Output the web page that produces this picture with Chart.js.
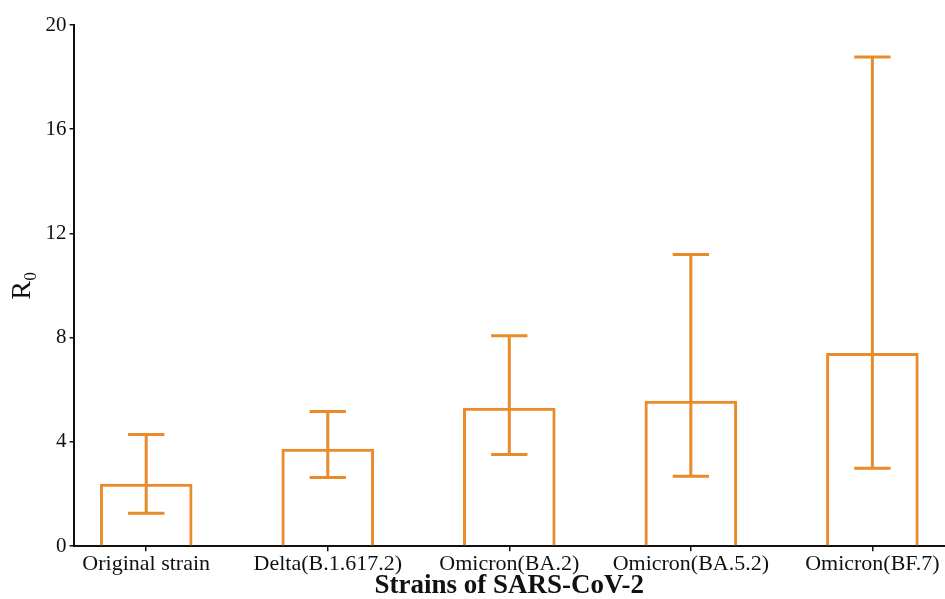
<!DOCTYPE html>
<html lang="en">
<head>
  <meta charset="UTF-8">
  <title>R0 of SARS-CoV-2 strains</title>
  <script src="https://cdn.jsdelivr.net/npm/chart.js"></script>
  <style>
    html, body { margin: 0; padding: 0; background: #fff; }
    #grafico { display: block; }
  </style>
</head>
<body>
  <canvas id="grafico" width="945" height="599"></canvas>

<script>
  // valores
  const cepas = ['Original strain', 'Delta(B.1.617.2)', 'Omicron(BA.2)', 'Omicron(BA.5.2)', 'Omicron(BF.7)']
  const r0 = [2.4, 3.74, 5.31, 5.58, 7.41]
  const r0Min = [1.26, 2.64, 3.52, 2.68, 2.99]
  const r0Max = [4.29, 5.17, 8.08, 11.19, 18.77]
  const ticksY = [0, 4, 8, 12, 16, 20]

  const laranja = '#e98b2a'

  // barras de erro desenhadas com as escalas do proprio chart
  const barrasErro = {
    id: 'barrasErro',
    afterDatasetsDraw(chart) {
      const ctx = chart.ctx
      const x = chart.scales.x
      const y = chart.scales.y
      ctx.save()
      ctx.strokeStyle = laranja
      ctx.lineWidth = 3
      ctx.lineCap = 'butt'
      for (let i = 0; i < cepas.length; i++) {
        const cx = x.getPixelForValue(i)
        const esq = x.getPixelForValue(i - 0.1)
        const dir = x.getPixelForValue(i + 0.1)
        const yMin = y.getPixelForValue(r0Min[i])
        const yMax = y.getPixelForValue(r0Max[i])
        ctx.beginPath()
        ctx.moveTo(cx, yMin)
        ctx.lineTo(cx, yMax)
        ctx.moveTo(esq, yMax)
        ctx.lineTo(dir, yMax)
        ctx.moveTo(esq, yMin)
        ctx.lineTo(dir, yMin)
        ctx.stroke()
      }
      ctx.restore()
    }
  }

  const ctx = document.getElementById('grafico').getContext('2d')

  new Chart(ctx, {
    type: 'bar',
    data: {
      datasets: [{
        data: r0.map((v, i) => ({ x: i, y: v })),
        backgroundColor: 'rgba(255,255,255,0)',
        borderColor: laranja,
        borderWidth: 3,
        borderSkipped: 'start',
        barPercentage: 0.51,
        categoryPercentage: 1
      }]
    },
    options: {
      responsive: false,
      animation: false,
      layout: { padding: { top: 25, right: 0, bottom: -3, left: 6 } },
      plugins: {
        legend: { display: false },
        tooltip: { enabled: false }
      },
      scales: {
        x: {
          type: 'linear',
          min: -0.4,
          max: 4.4,
          offset: false,
          afterBuildTicks: (escala) => {
            escala.ticks = cepas.map((c, i) => ({ value: i }))
          },
          ticks: {
            callback: (v) => cepas[v],
            color: '#111',
            padding: 0,
            maxRotation: 0,
            autoSkip: false,
            font: { family: 'Liberation Serif', size: 22 }
          },
          grid: {
            offset: false,
            drawOnChartArea: false,
            drawTicks: true,
            tickLength: 5,
            color: '#111',
            lineWidth: 1.5
          },
          border: { display: true, color: '#111', width: 2 },
          title: {
            display: true,
            text: 'Strains of SARS-CoV-2',
            color: '#111',
            padding: { top: -8, bottom: 0 },
            font: { family: 'Liberation Serif', size: 27, weight: 'bold' }
          }
        },
        y: {
          min: 0,
          max: 20,
          afterBuildTicks: (escala) => {
            escala.ticks = ticksY.map(v => ({ value: v }))
          },
          ticks: {
            color: '#111',
            padding: 3,
            font: { family: 'Liberation Serif', size: 21 }
          },
          grid: {
            drawOnChartArea: false,
            drawTicks: true,
            tickLength: 4,
            color: '#111',
            lineWidth: 1.5
          },
          border: { display: true, color: '#111', width: 2 },
          title: {
            display: true,
            text: 'R₀',
            color: '#111',
            padding: { top: 0, bottom: 3 },
            font: { family: 'Liberation Serif', size: 28 }
          }
        }
      }
    },
    plugins: [barrasErro]
  })
</script>
</body>
</html>
